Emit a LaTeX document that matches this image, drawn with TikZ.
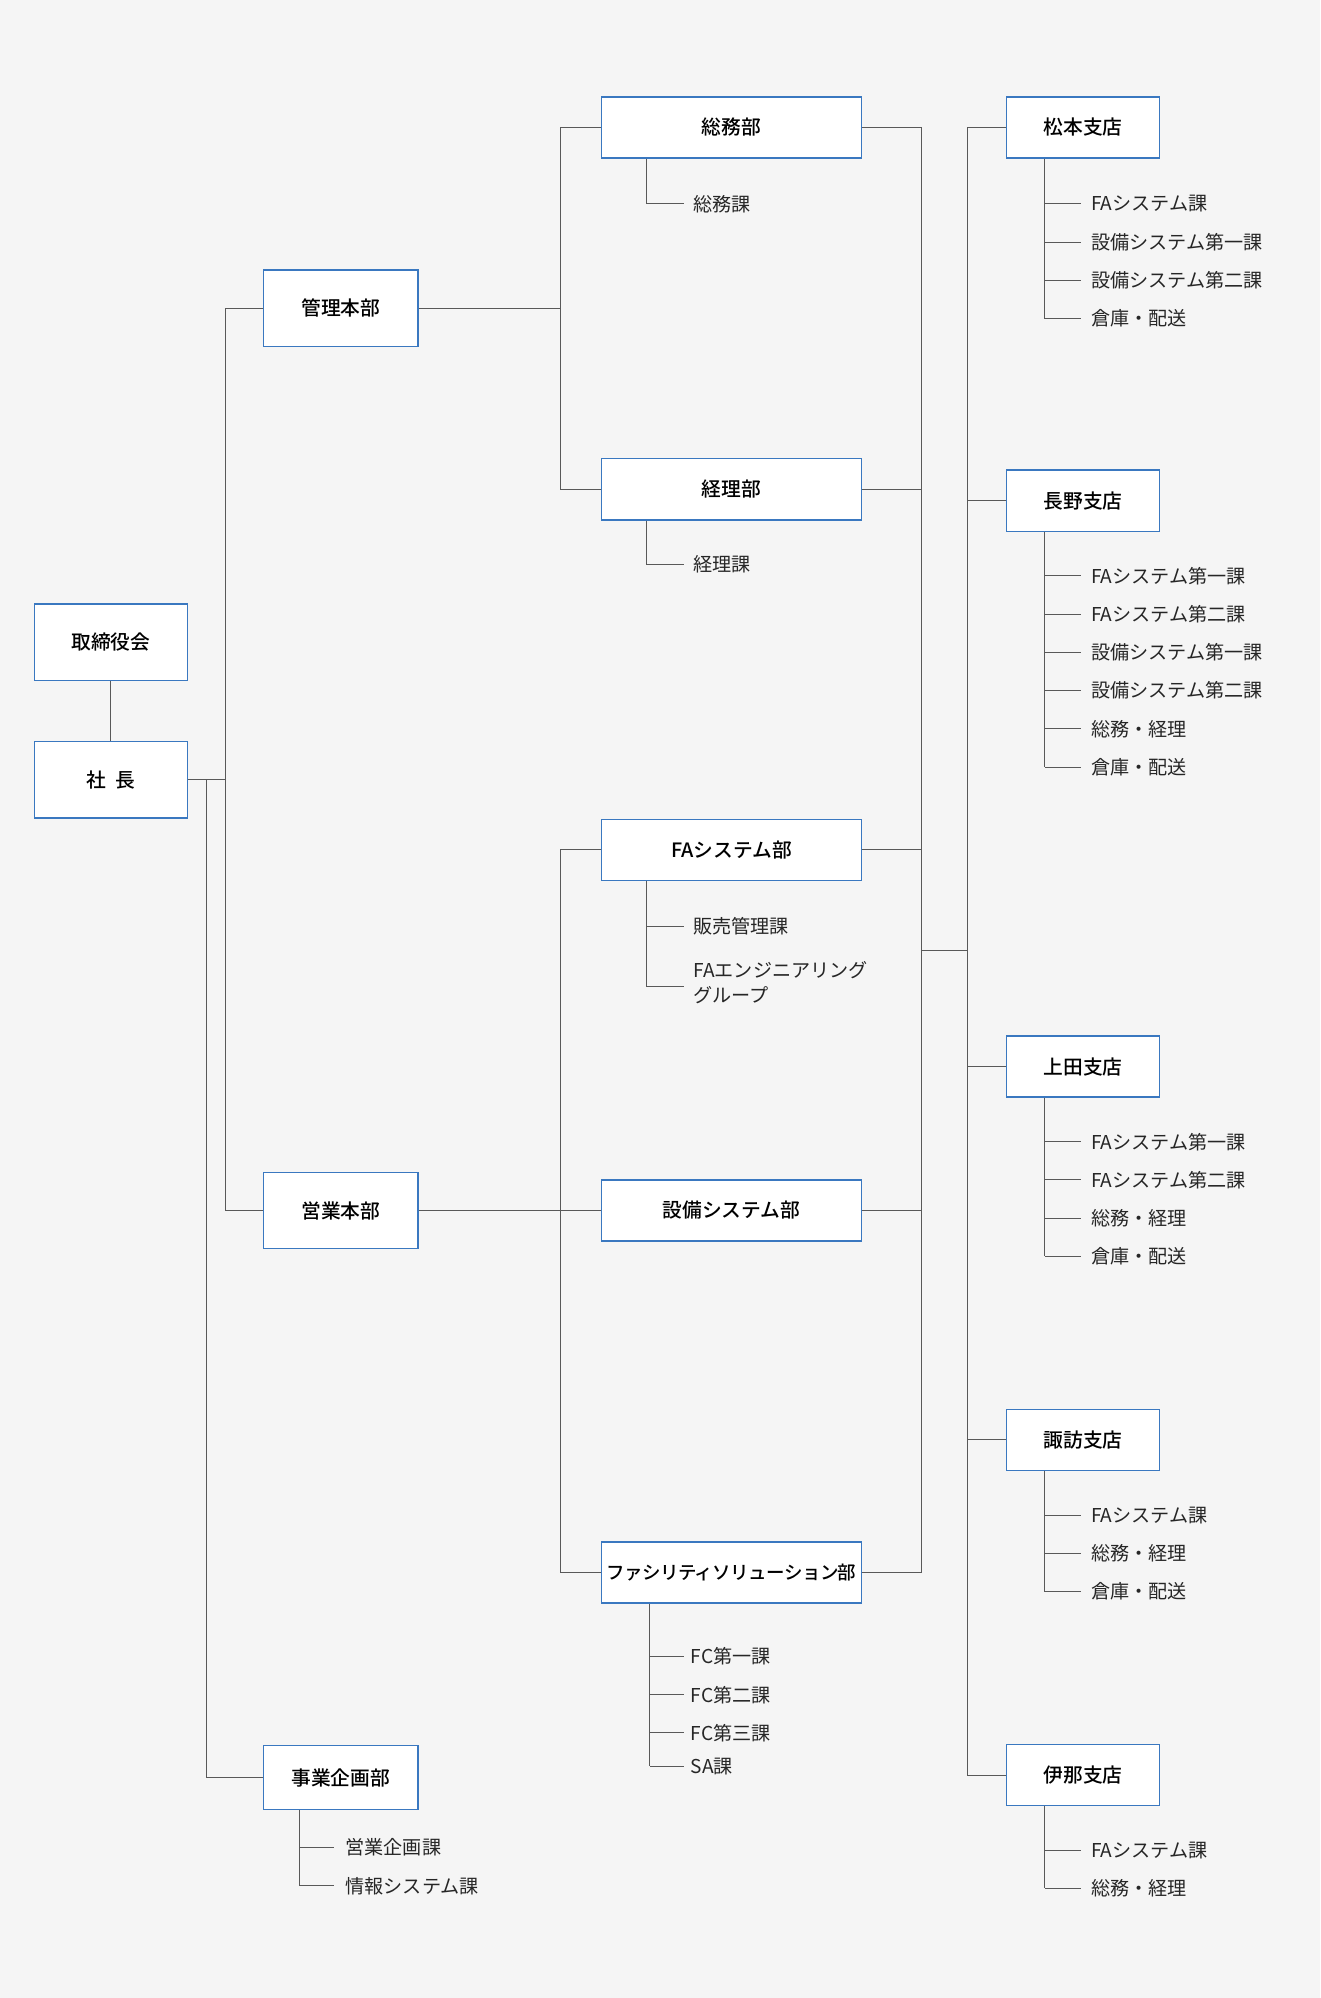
\documentclass[tikz,border=0pt]{standalone}
\usepackage{fontspec}
\setmainfont{Noto Sans CJK JP}[BoldFont={Noto Sans CJK JP Medium}]
\definecolor{bdr}{RGB}{58,120,192}
\begin{document}
\begin{tikzpicture}[x=1pt,y=-1pt,
  box/.style={draw=bdr,fill=white,line width=1.1pt,inner sep=0pt,font=\fontsize{15.5}{18}\selectfont\bfseries},
  ln/.style={draw=black!65,line width=0.8pt},
  it/.style={anchor=west,inner sep=0pt,font=\fontsize{15}{20}\selectfont,text=black!85}]
\fill[black!4] (0,0) rectangle (1036,1568);
\useasboundingbox (0,0) rectangle (1036,1568);
\newcommand{\bx}[6]{\node[box,minimum width=#4-#2,minimum height=#5-#3] (#1) at ({(#2+#4)/2},{(#3+#5)/2}) {#6};}
\bx{tori}{27}{474}{147}{534}{取締役会}
\bx{sha}{27}{582}{147}{642}{社\ \ 長}
\bx{kanri}{207}{212}{328}{272}{管理本部}
\bx{eigyo}{207}{920}{328}{980}{営業本部}
\bx{jigyo}{207}{1370}{328}{1420}{事業企画部}
\bx{somu}{472}{76}{676}{124}{総務部}
\bx{keiri}{472}{360}{676}{408}{経理部}
\bx{fa}{472}{643}{676}{691}{FAシステム部}
\bx{setsubi}{472}{926}{676}{974}{設備システム部}
\bx{fac}{472}{1210}{676}{1258}{\fontsize{14.5}{18}\selectfont\addfontfeature{LetterSpace=-3}ファシリティソリューション部}
\bx{matsu}{790}{76}{910}{124}{松本支店}
\bx{nagano}{790}{369}{910}{417}{長野支店}
\bx{ueda}{790}{813}{910}{861}{上田支店}
\bx{suwa}{790}{1106}{910}{1154}{諏訪支店}
\bx{ina}{790}{1369}{910}{1417}{伊那支店}
\draw[ln] (tori) -- (sha);
\draw[ln] (sha.east) -- (177,612) |- (kanri.west);
\draw[ln] (177,612) |- (eigyo.west);
\draw[ln] (162,612) |- (jigyo.west);
\draw[ln] (kanri.east) -- (440,242);
\draw[ln] (somu.west) -| (440,242) |- (keiri.west);
\draw[ln] (eigyo.east) -- (setsubi.west);
\draw[ln] (fa.west) -| (440,950) |- (fac.west);
\coordinate (hub) at (723,746);
\coordinate (hub2) at (759,746);
\draw[ln] (somu.east) -| (hub);
\draw[ln] (keiri.east) -- (723,384);
\draw[ln] (fa.east) -- (723,667);
\draw[ln] (setsubi.east) -- (723,950);
\draw[ln] (fac.east) -| (hub);
\draw[ln] (hub) -- (hub2);
\draw[ln] (matsu.west) -| (hub2);
\draw[ln] (nagano.west) -- (759,393);
\draw[ln] (ueda.west) -- (759,837);
\draw[ln] (suwa.west) -- (759,1130);
\draw[ln] (ina.west) -| (hub2);
\newcommand{\items}[6]{%
  \draw[ln] (#1.south -| #2,0) -- (#2,#5);
  \foreach \yy/\tt [count=\i] in {#6}{
    \draw[ln] (#2,\yy) -- (#3,\yy);
    \node[it] (#1-\i) at (#4,\yy) {\tt};}}
\items{somu}{507}{537}{544}{160}{160/総務課}
\items{keiri}{507}{537}{544}{443}{443/経理課}
\items{fa}{507}{537}{544}{774}{727/販売管理課}
\node[it,align=left,anchor=north west] (fa-2) at (544,754) {FAエンジニアリング\\グループ};
\draw[ln] (507,774) -- (537,774);
\items{fac}{510}{537}{542}{1386}{1300/FC第一課,1330/FC第二課,1360/FC第三課,1386/SA課}
\items{jigyo}{235}{262}{271}{1480}{1450/営業企画課,1480/情報システム課}
\items{matsu}{820}{848}{856}{250}{160/FAシステム課,190/設備システム第一課,220/設備システム第二課,250/倉庫・配送}
\items{nagano}{820}{848}{856}{602}{452/FAシステム第一課,482/FAシステム第二課,512/設備システム第一課,542/設備システム第二課,572/総務・経理,602/倉庫・配送}
\items{ueda}{820}{848}{856}{986}{896/FAシステム第一課,926/FAシステム第二課,956/総務・経理,986/倉庫・配送}
\items{suwa}{820}{848}{856}{1249}{1189/FAシステム課,1219/総務・経理,1249/倉庫・配送}
\items{ina}{820}{848}{856}{1482}{1452/FAシステム課,1482/総務・経理}
\end{tikzpicture}
\end{document}
